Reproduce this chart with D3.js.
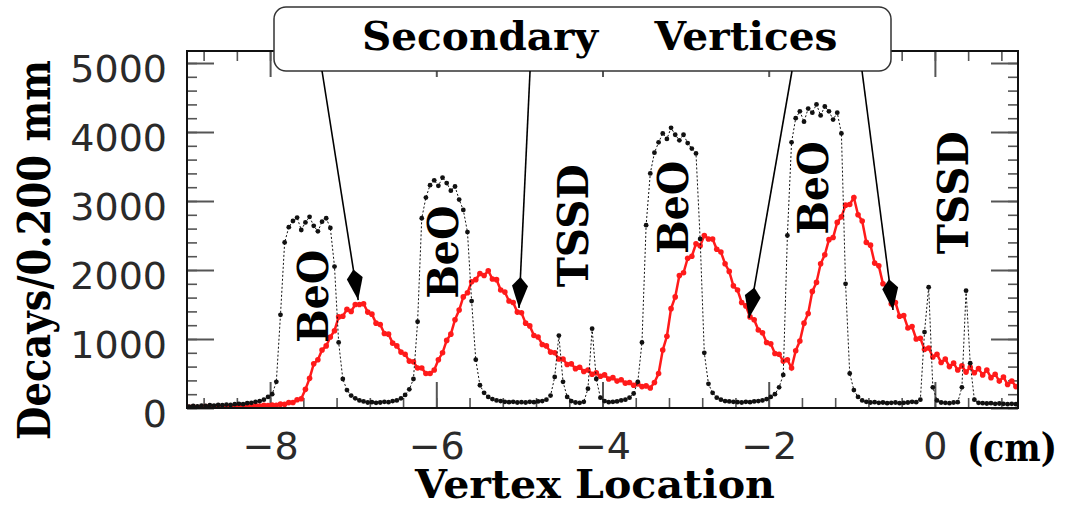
<!DOCTYPE html>
<html>
<head>
<meta charset="utf-8">
<script src="https://cdn.jsdelivr.net/npm/d3@7"></script>
<style>
  body { margin: 0; background: #fff; }
  svg { display: block; }
  .num text { font-family: "DejaVu Sans", sans-serif; font-size: 38px; fill: #2a2a2a; }
  .lbl { font-family: "DejaVu Serif", serif; font-weight: bold; fill: #000; }
</style>
</head>
<body>
<div id="chart"></div>
<script>
/* CONSTANTS AND GLOBALS */
const width = 1067,
  height = 507,
  margin = { top: 51, right: 49, bottom: 99, left: 187 };

// histogram bins: first bin centre and bin width (cm)
const binLo = -8.975,
  binStep = 0.05;

// black: decays in the targets (BeO) and silicon (TSSD)
const targetCounts = [
  20, 30, 25, 35, 30, 40, 35, 45, 40, 50,
  45, 55, 60, 55, 70, 75, 90, 100, 120, 160,
  200, 380, 1350, 2400, 2620, 2710, 2760, 2580, 2690, 2770,
  2640, 2560, 2700, 2750, 2610, 2050, 950, 420, 260, 180,
  140, 110, 95, 80, 85, 75, 80, 90, 85, 100,
  110, 140, 190, 270, 420, 1250, 2750, 3050, 3230, 3300,
  3220, 3340, 3260, 3150, 3210, 3020, 2870, 2550, 1550, 700,
  330, 220, 160, 130, 110, 100, 90, 85, 90, 80,
  85, 80, 90, 85, 95, 100, 120, 180, 450, 1050,
  380, 160, 100, 80, 75, 90, 280, 1150, 420, 150,
  100, 85, 90, 95, 110, 120, 150, 210, 380, 950,
  2650, 3400, 3700, 3850, 3980, 3900, 4060, 3960, 3880, 3960,
  3840, 3760, 3690, 2450, 800, 350, 220, 150, 120, 100,
  95, 90, 85, 80, 90, 85, 95, 100, 110, 130,
  160, 200, 300, 480, 2500, 3850, 4200, 4300, 4150, 4340,
  4280, 4400, 4240, 4370, 4300, 4180, 4280, 3980, 1800, 500,
  260, 160, 110, 90, 80, 85, 75, 80, 70, 75,
  80, 70, 75, 80, 90, 85, 120, 1100, 1750, 300,
  110, 80, 75, 70, 80, 85, 300, 1700, 650, 120,
  75, 70, 65, 70, 60, 65, 60, 55, 60, 55
];

// red: secondary vertices
const vertexCounts = [
  10, 18, 6, 14, 20, 8, 16, 22, 12, 20,
  25, 15, 28, 18, 32, 22, 34, 30, 38, 36,
  44, 40, 56, 55, 78, 80, 120, 135, 270, 430,
  640, 700, 840, 900, 1030, 1120, 1320, 1330, 1430, 1400,
  1500, 1500, 1510, 1390, 1360, 1230, 1210, 1080, 1070, 940,
  900, 810, 780, 680, 670, 580, 580, 500, 500, 550,
  700, 800, 980, 1070, 1280, 1420, 1610, 1670, 1830, 1860,
  1950, 1920, 1990, 1870, 1860, 1710, 1680, 1550, 1530, 1390,
  1380, 1230, 1190, 1050, 1030, 920, 900, 810, 800, 710,
  710, 630, 640, 570, 590, 530, 550, 490, 510, 460,
  480, 420, 440, 390, 410, 360, 370, 330, 350, 310,
  320, 290, 370, 500, 840, 1040, 1440, 1610, 1920, 1960,
  2170, 2200, 2380, 2350, 2500, 2450, 2450, 2300, 2260, 2090,
  1980, 1770, 1710, 1530, 1480, 1320, 1280, 1130, 1090, 950,
  930, 790, 780, 680, 700, 580, 830, 970, 1230, 1370,
  1690, 1820, 2090, 2220, 2440, 2470, 2690, 2770, 2940, 2950,
  3050, 2800, 2710, 2400, 2360, 2100, 2060, 1800, 1750, 1510,
  1530, 1330, 1340, 1160, 1180, 1000, 1010, 850, 870, 740,
  780, 660, 710, 600, 650, 550, 610, 520, 590, 510,
  570, 480, 550, 440, 490, 390, 450, 340, 390, 310
];

const xTicks = [-8, -6, -4, -2, 0];
const yTicks = [0, 1000, 2000, 3000, 4000, 5000];

// region labels, in data units (baseline x, centre y)
const regionLabels = [
  { text: "BeO", x: -7.30, y: 1620 },
  { text: "BeO", x: -5.74, y: 2260 },
  { text: "TSSD", x: -4.18, y: 2640 },
  { text: "BeO", x: -2.97, y: 2910 },
  { text: "BeO", x: -1.29, y: 3190 },
  { text: "TSSD", x: 0.40, y: 3120 }
];

// arrows from the callout box down to the red curve
const arrowTails = [-7.375, -4.872, -1.72, -0.877];
const arrowTips = [
  { x: -6.94, y: 1565 },
  { x: -5.005, y: 1450 },
  { x: -2.237, y: 1305 },
  { x: -0.504, y: 1420 }
];

/* SCALES */
const xScale = d3.scaleLinear().domain([-9, 1]).range([margin.left, width - margin.right]);
const yScale = d3.scaleLinear().domain([0, 5174]).range([height - margin.bottom, margin.top]);
const x0 = margin.left, x1 = width - margin.right,
  y0 = height - margin.bottom, y1 = margin.top;

const svg = d3.select("#chart").append("svg")
  .attr("width", width)
  .attr("height", height);

svg.append("defs").append("clipPath").attr("id", "plot")
  .append("rect")
  .attr("x", x0).attr("y", y1)
  .attr("width", x1 - x0).attr("height", y0 - y1);

const binX = i => binLo + i * binStep;

// + TICKS (inward, all four sides)
function ticks(axis, tx, ty, values, size, w) {
  const g = svg.append("g")
    .attr("transform", `translate(${tx},${ty})`)
    .call(axis.tickValues(values).tickSize(-size).tickFormat(""));
  g.select(".domain").remove();
  g.selectAll("line").attr("stroke", "#555").attr("stroke-width", w);
}
const yMinor = d3.range(0, 5001, 200);
const xMinor = d3.range(-8.8, 0.9, 0.4);
ticks(d3.axisLeft(yScale), x0, 0, yMinor, 10, 1.6);
ticks(d3.axisLeft(yScale), x0, 0, yTicks, 27, 2);
ticks(d3.axisRight(yScale), x1, 0, yMinor, 10, 1.6);
ticks(d3.axisRight(yScale), x1, 0, yTicks, 27, 2);
ticks(d3.axisBottom(xScale), 0, y0, xMinor, 10, 1.6);
ticks(d3.axisBottom(xScale), 0, y0, xTicks, 26, 2);
ticks(d3.axisTop(xScale), 0, y1, xMinor, 10, 1.6);
ticks(d3.axisTop(xScale), 0, y1, xTicks, 26, 2);

// + DATA
const plot = svg.append("g").attr("clip-path", "url(#plot)");
const line = d3.line().x((d, i) => xScale(binX(i))).y(d => yScale(d));

plot.append("path")
  .datum(vertexCounts)
  .attr("fill", "none")
  .attr("stroke", "#ff1a1a")
  .attr("stroke-width", 2.5)
  .attr("d", line);

plot.selectAll(".red")
  .data(vertexCounts)
  .join("circle")
  .attr("class", "red")
  .attr("cx", (d, i) => xScale(binX(i)))
  .attr("cy", d => yScale(d))
  .attr("r", 2.8)
  .attr("fill", "#ff1a1a");

plot.append("path")
  .datum(targetCounts)
  .attr("fill", "none")
  .attr("stroke", "#111")
  .attr("stroke-width", 1)
  .attr("stroke-dasharray", "2,2")
  .attr("d", line);

plot.selectAll(".dot")
  .data(targetCounts)
  .join("circle")
  .attr("class", "dot")
  .attr("cx", (d, i) => xScale(binX(i)))
  .attr("cy", d => yScale(d))
  .attr("r", 2.4)
  .attr("fill", "#111");

// + FRAME
svg.append("rect")
  .attr("x", x0).attr("y", y1)
  .attr("width", x1 - x0).attr("height", y0 - y1)
  .attr("fill", "none")
  .attr("stroke", "#111")
  .attr("stroke-width", 2);

// + TICK LABELS
const yLab = svg.append("g")
  .attr("class", "num")
  .attr("transform", `translate(${x0 - 20},0)`)
  .call(d3.axisLeft(yScale).tickValues(yTicks).tickSize(0).tickPadding(0).tickFormat(d3.format("d")));
yLab.select(".domain").remove();
yLab.selectAll("text").attr("dy", "0.48em");

const xLab = svg.append("g")
  .attr("class", "num")
  .attr("transform", `translate(0,${y0})`)
  .call(d3.axisBottom(xScale).tickValues(xTicks).tickSize(0).tickPadding(24));
xLab.select(".domain").remove();

// + AXIS TITLES
svg.append("text")
  .attr("class", "lbl")
  .attr("x", 595).attr("y", 498)
  .attr("text-anchor", "middle")
  .attr("font-size", 40)
  .attr("textLength", 360).attr("lengthAdjust", "spacingAndGlyphs")
  .text("Vertex Location");

svg.append("text")
  .attr("class", "lbl")
  .attr("x", 1012).attr("y", 461)
  .attr("text-anchor", "middle")
  .attr("font-size", 40)
  .attr("textLength", 90).attr("lengthAdjust", "spacingAndGlyphs")
  .text("(cm)");

svg.append("text")
  .attr("class", "lbl")
  .attr("transform", "translate(50,250) rotate(-90)")
  .attr("text-anchor", "middle")
  .attr("font-size", 44)
  .attr("textLength", 380).attr("lengthAdjust", "spacingAndGlyphs")
  .text("Decays/0.200 mm");

// + REGION LABELS
svg.selectAll(".region")
  .data(regionLabels)
  .join("text")
  .attr("class", "lbl region")
  .attr("transform", d => `translate(${xScale(d.x)},${yScale(d.y)}) rotate(-90)`)
  .attr("text-anchor", "middle")
  .attr("font-size", 42)
  .attr("textLength", d => d.text === "BeO" ? 93 : 123)
  .attr("lengthAdjust", "spacingAndGlyphs")
  .text(d => d.text);

// + CALLOUT
const boxBottom = 71;
svg.append("rect")
  .attr("x", 274).attr("y", 7)
  .attr("width", 617).attr("height", boxBottom - 7)
  .attr("rx", 12)
  .attr("fill", "#fff")
  .attr("stroke", "#333")
  .attr("stroke-width", 1.5);

svg.append("text").attr("class", "lbl")
  .attr("x", 480).attr("y", 50)
  .attr("text-anchor", "middle").attr("font-size", 40)
  .attr("textLength", 236).attr("lengthAdjust", "spacingAndGlyphs")
  .text("Secondary");
svg.append("text").attr("class", "lbl")
  .attr("x", 746).attr("y", 50)
  .attr("text-anchor", "middle").attr("font-size", 40)
  .attr("textLength", 183).attr("lengthAdjust", "spacingAndGlyphs")
  .text("Vertices");

arrowTips.forEach((tip, i) => {
  const ax = xScale(arrowTails[i]), ay = boxBottom,
    bx = xScale(tip.x), by = yScale(tip.y);
  const ang = Math.atan2(by - ay, bx - ax) * 180 / Math.PI;
  svg.append("line")
    .attr("x1", ax).attr("y1", ay)
    .attr("x2", bx).attr("y2", by)
    .attr("stroke", "#000")
    .attr("stroke-width", 1.6);
  svg.append("path")
    .attr("transform", `translate(${bx},${by}) rotate(${ang})`)
    .attr("d", "M0,0L-22,-8L-31,0L-22,8Z")
    .attr("fill", "#000");
});
</script>
</body>
</html>
